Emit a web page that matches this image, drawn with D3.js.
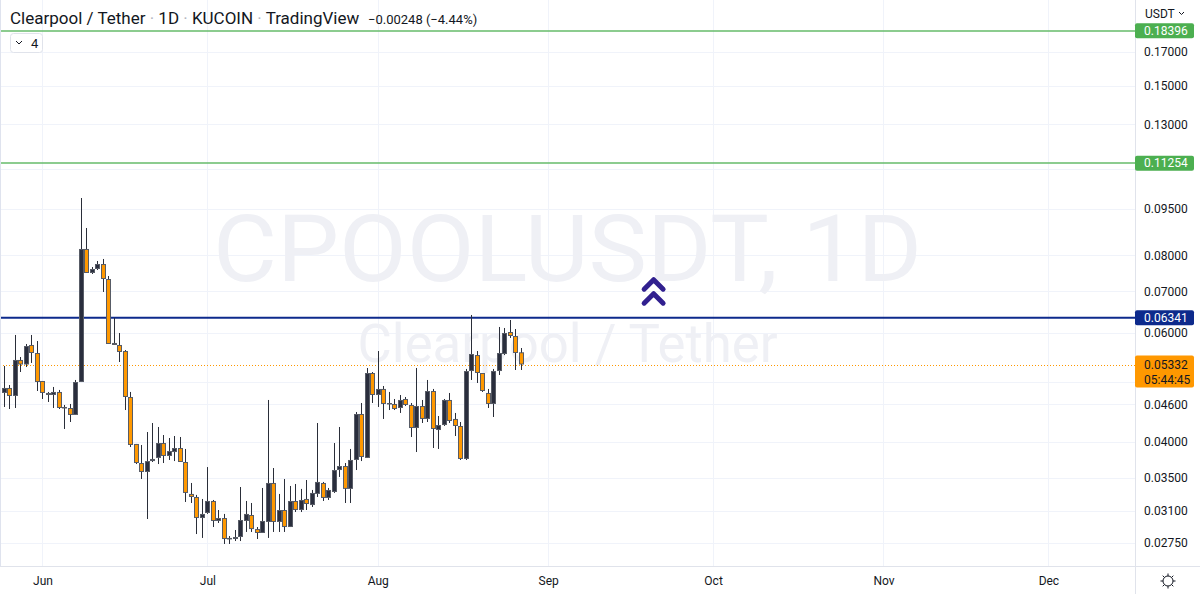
<!DOCTYPE html>
<html>
<head>
<meta charset="utf-8">
<script src="https://cdn.jsdelivr.net/npm/d3@7"></script>
<style>
  body { margin: 0; background: #fff; }
  svg { display: block; font-family: Roboto, "Open Sans", sans-serif; }
</style>
</head>
<body>
<svg id="chart" width="1200" height="594"></svg>
<script>
// CPOOL/USDT daily candles, 25 May 2022 -> 28 Aug 2022
var startDay = Date.UTC(2022, 4, 25);

var opens = [
  0.04798, 0.04888, 0.04745, 0.05423, 0.05332, 0.05733, 0.05565, 0.05016, 0.04798, 0.04762,
  0.04816, 0.04538, 0.04538, 0.04422, 0.04997, 0.08186, 0.07488, 0.07600, 0.07742, 0.07323,
  0.05776, 0.05733, 0.05606, 0.04727, 0.03971, 0.03700, 0.03579, 0.03727, 0.03770, 0.03985,
  0.03798, 0.03854, 0.03912, 0.03714, 0.03299, 0.03262, 0.03017, 0.03074, 0.03214, 0.02984,
  0.03017, 0.02791, 0.02791, 0.02812, 0.02984, 0.03051, 0.02896, 0.02854, 0.02973, 0.03436,
  0.02973, 0.03108, 0.02918, 0.03214, 0.03108, 0.03238, 0.03166, 0.03299, 0.03436, 0.03250,
  0.03323, 0.03605, 0.03659, 0.03361, 0.03742, 0.04438, 0.03770, 0.05167, 0.04762, 0.04870,
  0.04606, 0.04606, 0.04538, 0.04692, 0.04589, 0.04213, 0.04572, 0.04357, 0.04833, 0.04182,
  0.04260, 0.04675, 0.04357, 0.04245, 0.03756, 0.05205, 0.05523, 0.05167, 0.04798, 0.04606,
  0.05205, 0.05544, 0.06016, 0.05927, 0.05580
];
var highs = [
  0.05303, 0.04942, 0.05950, 0.05483, 0.05754, 0.05950, 0.05818, 0.05016, 0.04816, 0.04906,
  0.04852, 0.04589, 0.04606, 0.05035, 0.09890, 0.08849, 0.07656, 0.07829, 0.07888, 0.07405,
  0.06337, 0.05994, 0.05627, 0.04816, 0.03971, 0.03956, 0.04151, 0.04292, 0.04229, 0.04105,
  0.04060, 0.04090, 0.04075, 0.03898, 0.03436, 0.03287, 0.03238, 0.03645, 0.03226, 0.03108,
  0.03063, 0.02822, 0.02886, 0.03385, 0.03214, 0.03190, 0.02918, 0.03373, 0.04675, 0.03632,
  0.03299, 0.03487, 0.03398, 0.03423, 0.03361, 0.03474, 0.03348, 0.04292, 0.03449, 0.03373,
  0.03985, 0.04229, 0.03700, 0.03898, 0.04471, 0.04623, 0.05264, 0.05186, 0.05606, 0.04924,
  0.04816, 0.04692, 0.04762, 0.04727, 0.04623, 0.05264, 0.04675, 0.05035, 0.04870, 0.04405,
  0.04692, 0.04798, 0.04455, 0.04308, 0.05245, 0.06408, 0.05606, 0.05167, 0.04870, 0.05245,
  0.06129, 0.06106, 0.06290, 0.06083, 0.05669
];
var lows = [
  0.04555, 0.04521, 0.04538, 0.05186, 0.05283, 0.05363, 0.04833, 0.04692, 0.04640, 0.04538,
  0.04521, 0.04198, 0.04308, 0.04422, 0.04997, 0.07488, 0.07460, 0.07572, 0.06979, 0.05754,
  0.05733, 0.05382, 0.04504, 0.03926, 0.03686, 0.03487, 0.03006, 0.03714, 0.03686, 0.03700,
  0.03742, 0.03727, 0.03714, 0.03202, 0.03190, 0.02843, 0.02802, 0.03063, 0.02918, 0.02962,
  0.02740, 0.02740, 0.02770, 0.02770, 0.02865, 0.02865, 0.02791, 0.02854, 0.02802, 0.02865,
  0.02865, 0.02865, 0.02918, 0.03085, 0.03085, 0.03108, 0.03143, 0.03262, 0.03214, 0.03226,
  0.03311, 0.03513, 0.03190, 0.03190, 0.03605, 0.03727, 0.03770, 0.04623, 0.04555, 0.04357,
  0.04504, 0.04504, 0.04455, 0.04572, 0.04075, 0.03854, 0.04292, 0.04308, 0.03912, 0.03898,
  0.04245, 0.04292, 0.04090, 0.03742, 0.03742, 0.05035, 0.04979, 0.04816, 0.04538, 0.04389,
  0.05129, 0.05523, 0.05884, 0.05225, 0.05225
];
var closes = [
  0.04888, 0.04745, 0.05423, 0.05332, 0.05711, 0.05565, 0.04997, 0.04798, 0.04762, 0.04816,
  0.04538, 0.04555, 0.04422, 0.04997, 0.08186, 0.07488, 0.07600, 0.07742, 0.07323, 0.05754,
  0.05733, 0.05586, 0.04727, 0.03956, 0.03700, 0.03579, 0.03727, 0.03756, 0.03985, 0.03798,
  0.03868, 0.03912, 0.03714, 0.03311, 0.03262, 0.03017, 0.03063, 0.03214, 0.02984, 0.03017,
  0.02791, 0.02802, 0.02812, 0.02995, 0.03063, 0.02896, 0.02854, 0.02984, 0.03436, 0.02973,
  0.03108, 0.02918, 0.03214, 0.03108, 0.03226, 0.03178, 0.03311, 0.03449, 0.03250, 0.03348,
  0.03605, 0.03659, 0.03361, 0.03742, 0.04438, 0.03784, 0.05167, 0.04762, 0.04870, 0.04606,
  0.04623, 0.04521, 0.04675, 0.04589, 0.04213, 0.04572, 0.04357, 0.04833, 0.04198, 0.04260,
  0.04675, 0.04324, 0.04245, 0.03756, 0.05205, 0.05544, 0.05167, 0.04833, 0.04606, 0.05205,
  0.05565, 0.05994, 0.05927, 0.05565, 0.05332
];

var priceTicks = [0.0275, 0.031, 0.035, 0.04, 0.046, 0.05, 0.06, 0.07, 0.08, 0.095, 0.11, 0.13, 0.15, 0.17];
var greenLevels = [0.18396, 0.11254];
var blueLevel = 0.06341;
var lastPrice = 0.05332;
var countdown = "05:44:45";
var changeText = "\u22120.00248 (\u22124.44%)";
var arrowMark = { date: Date.UTC(2022, 8, 20), price: 0.0700 };

var paneW = 1135, paneH = 566, width = 1200, height = 594;
var upColor = "#2a2e3d", downColor = "#ff9800", edgeColor = "#585c66", wickColor = "#2a2e39";

var dates = opens.map((d, i) => d3.utcDay.offset(new Date(startDay), i));
var candles = dates.map((d, i) => ({ date: d, o: opens[i], h: highs[i], l: lows[i], c: closes[i] }));

var x = d3.scaleUtc()
    .domain([new Date(Date.UTC(2022, 4, 25)), new Date(Date.UTC(2022, 11, 1))])
    .range([4, 1048.4]);
var y = d3.scaleLog()
    .domain([0.0275, 0.17])
    .range([543, 52]);

var svg = d3.select("#chart");
svg.append("rect").attr("width", width).attr("height", height).attr("fill", "#fff");

var months = d3.utcMonth.range(new Date(Date.UTC(2022, 5, 1)), new Date(Date.UTC(2022, 11, 2)));

// grid
var grid = svg.append("g").attr("stroke", "#f0f3fa").attr("stroke-width", 1);
grid.selectAll(".v").data(months).enter().append("line")
    .attr("x1", d => Math.round(x(d)) + 0.5).attr("x2", d => Math.round(x(d)) + 0.5)
    .attr("y1", 0).attr("y2", paneH);
grid.selectAll(".h").data(priceTicks).enter().append("line")
    .attr("x1", 0).attr("x2", paneW)
    .attr("y1", d => Math.round(y(d)) + 0.5).attr("y2", d => Math.round(y(d)) + 0.5);

// watermark
svg.append("text")
    .attr("x", paneW / 2).attr("y", 281)
    .attr("text-anchor", "middle")
    .attr("font-size", 92)
    .attr("textLength", 709).attr("lengthAdjust", "spacingAndGlyphs")
    .attr("fill", "#eff0f5")
    .text("CPOOLUSDT, 1D");
svg.append("text")
    .attr("x", paneW / 2).attr("y", 362)
    .attr("text-anchor", "middle")
    .attr("font-size", 54)
    .attr("textLength", 420).attr("lengthAdjust", "spacingAndGlyphs")
    .attr("fill", "#eff0f5")
    .text("Clearpool / Tether");

// horizontal levels
var levelG = svg.append("g").attr("class", "levels");
levelG.selectAll("line.green").data(greenLevels).enter().append("line")
    .attr("class", "green")
    .attr("x1", 0).attr("x2", paneW)
    .attr("y1", d => Math.round(y(d))).attr("y2", d => Math.round(y(d)))
    .style("stroke", "#66bb6a").style("stroke-width", "1.4px");
levelG.append("line")
    .attr("x1", 0).attr("x2", paneW)
    .attr("y1", y(blueLevel)).attr("y2", y(blueLevel))
    .style("stroke", "#0d2a8c").style("stroke-width", "2px");
levelG.append("line")
    .attr("x1", 0).attr("x2", paneW)
    .attr("y1", Math.round(y(lastPrice)) + 0.5).attr("y2", Math.round(y(lastPrice)) + 0.5)
    .style("stroke", "#ff9800").style("stroke-width", "1px").attr("stroke-dasharray", "1,2");

// candles
var bw = 5;
var cg = svg.append("g").selectAll("g").data(candles).enter().append("g");
cg.append("line")
    .attr("x1", d => Math.round(x(d.date)) + 0.5).attr("x2", d => Math.round(x(d.date)) + 0.5)
    .attr("y1", d => y(d.h)).attr("y2", d => y(d.l))
    .attr("stroke", wickColor).attr("stroke-width", 1);
cg.append("rect")
    .attr("x", d => Math.round(x(d.date)) - 2)
    .attr("y", d => y(Math.max(d.o, d.c)))
    .attr("width", bw)
    .attr("height", d => Math.max(1.5, Math.abs(y(d.o) - y(d.c))))
    .attr("fill", edgeColor);
cg.append("rect")
    .attr("x", d => Math.round(x(d.date)) - 1)
    .attr("y", d => y(Math.max(d.o, d.c)) + 1)
    .attr("width", bw - 2)
    .attr("height", d => Math.max(0, Math.abs(y(d.o) - y(d.c)) - 2))
    .attr("fill", d => d.c >= d.o ? upColor : downColor);

// double chevron marker
var ax = x(new Date(arrowMark.date)), ay = y(arrowMark.price);
var arrow = svg.append("g").attr("transform", "translate(" + (ax + 1) + "," + ay + ")")
    .attr("fill", "none").attr("stroke", "#31208f").attr("stroke-width", 5)
    .attr("stroke-linecap", "round").attr("stroke-linejoin", "round");
arrow.append("path").attr("d", "M-9.5,-2 L0,-11.5 L9.5,-2");
arrow.append("path").attr("d", "M-9.5,12 L0,2.5 L9.5,12");

// axis backgrounds
svg.append("rect").attr("x", paneW).attr("y", 0).attr("width", width - paneW).attr("height", height).attr("fill", "#fff");
svg.append("rect").attr("x", 0).attr("y", paneH).attr("width", width).attr("height", height - paneH).attr("fill", "#fff");

// price axis (labels hidden behind a price box are left out)
var boxed = greenLevels.concat([lastPrice]);
var axisTicks = priceTicks.filter(t => !boxed.some(b => Math.abs(y(b) - y(t)) < 9 || (b === lastPrice && y(t) > y(b) && y(t) - y(b) < 26)));
var yAxis = svg.append("g")
    .attr("transform", "translate(" + paneW + ",0)")
    .call(d3.axisRight(y).tickValues(axisTicks).tickFormat(d3.format(".5f")).tickSize(0).tickPadding(9));
yAxis.select(".domain").remove();
yAxis.selectAll("text").attr("font-size", 12).attr("fill", "#131722").attr("font-family", "Roboto, sans-serif");

svg.append("line").attr("x1", paneW + 0.5).attr("x2", paneW + 0.5).attr("y1", 0).attr("y2", height)
    .attr("stroke", "#e0e3eb");
svg.append("line").attr("x1", 0).attr("x2", width).attr("y1", paneH + 0.5).attr("y2", paneH + 0.5)
    .attr("stroke", "#e0e3eb");
svg.append("line").attr("x1", 0.5).attr("x2", 0.5).attr("y1", 0).attr("y2", paneH)
    .attr("stroke", "#dfe3ee");

// price labels
function priceLabel(v, fill, txtColor) {
    var cy = y(v);
    svg.append("rect").attr("x", paneW).attr("y", cy - 7.5).attr("width", 59).attr("height", 15)
        .attr("rx", 2).attr("fill", fill);
    svg.append("text").attr("x", paneW + 9).attr("y", cy + 4.3)
        .attr("font-size", 12).attr("fill", txtColor).text(d3.format(".5f")(v));
}
greenLevels.forEach(v => priceLabel(v, "#4caf50", "#fff"));
priceLabel(blueLevel, "#0d2a8c", "#fff");

var ly = y(lastPrice);
svg.append("rect").attr("x", paneW).attr("y", ly - 9).attr("width", 59).attr("height", 32)
    .attr("rx", 2).attr("fill", "#ff9800");
svg.append("text").attr("x", paneW + 9).attr("y", ly + 4.3)
    .attr("font-size", 12).attr("fill", "#131722").text(d3.format(".5f")(lastPrice));
svg.append("text").attr("x", paneW + 9).attr("y", ly + 19)
    .attr("font-size", 12).attr("fill", "#131722").text(countdown);

svg.append("text").attr("x", 1145).attr("y", 18).attr("font-size", 12).attr("fill", "#131722").text("USDT");
svg.append("path").attr("d", "M1179,12 L1181.5,14.5 L1184,12").attr("fill", "none").attr("stroke", "#131722").attr("stroke-width", 1);

// time axis
var xAxis = svg.append("g")
    .attr("transform", "translate(0," + paneH + ")")
    .call(d3.axisBottom(x).tickValues(months).tickFormat(d3.utcFormat("%b")).tickSize(0).tickPadding(10));
xAxis.select(".domain").remove();
xAxis.selectAll("text").attr("font-size", 12).attr("fill", "#131722").attr("font-family", "Roboto, sans-serif");

// gear icon
var gear = svg.append("g").attr("transform", "translate(1168,581)").attr("stroke", "#131722").attr("fill", "none");
gear.append("circle").attr("r", 5);
d3.range(8).forEach(k => {
    var a = k * Math.PI / 4;
    gear.append("line").attr("x1", Math.cos(a) * 5).attr("y1", Math.sin(a) * 5)
        .attr("x2", Math.cos(a) * 7.5).attr("y2", Math.sin(a) * 7.5);
});

// legend / title
var title = svg.append("text").attr("x", 10).attr("y", 24).attr("font-size", 17).attr("fill", "#131722");
var parts = ["Clearpool / Tether", "1D", "KUCOIN", "TradingView"];
parts.forEach((p, i) => {
    if (i > 0) title.append("tspan").attr("fill", "#b2b5be").text(" \u00b7 ");
    title.append("tspan").text(p);
});
svg.append("text").attr("x", 368).attr("y", 24).attr("font-size", 13).attr("fill", "#131722").text(changeText);

var btn = svg.append("g");
btn.append("rect").attr("x", 10.5).attr("y", 33.5).attr("width", 32).attr("height", 19).attr("rx", 3)
    .attr("fill", "#fff").attr("stroke", "#e0e3eb");
btn.append("path").attr("d", "M16,41 L19,44 L22,41").attr("fill", "none").attr("stroke", "#131722").attr("stroke-width", 1);
btn.append("text").attr("x", 31).attr("y", 48).attr("font-size", 13).attr("fill", "#131722").text("4");
</script>
</body>
</html>
